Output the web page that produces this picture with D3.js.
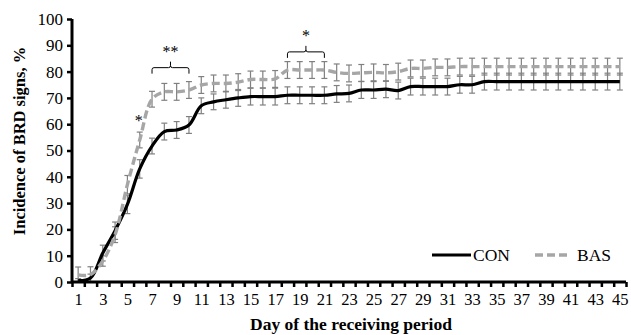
<!DOCTYPE html>
<html>
<head>
<meta charset="utf-8">
<script src="https://cdn.jsdelivr.net/npm/d3@7"></script>
<style>
  body { margin: 0; background: #fff; }
  svg text { font-family: "Liberation Serif", "Times New Roman", serif; }
</style>
</head>
<body>
<svg id="chart" width="631" height="335"></svg>
<script>
// days 1..45
const days = d3.range(1, 46);
const yTicks = [0, 10, 20, 30, 40, 50, 60, 70, 80, 90, 100];

// incidence of BRD signs (%)
const conValues = [0.5, 1.5, 11, 19.5, 29.5, 43, 51.7, 57.2, 57.8, 59.7,
  67, 68.5, 69.3, 70, 70.5, 70.5, 70.5, 71, 71, 71,
  71, 71.5, 71.7, 73, 73, 73.3, 72.8, 74.3, 74.3, 74.3,
  74.3, 75, 75, 76.2, 76.2, 76.2, 76.2, 76.2, 76.2, 76.2,
  76.2, 76.2, 76.2, 76.2, 76.2];
const basValues = [2.7, 2.8, 8, 18, 37, 54, 69.5, 72.3, 72.3, 73,
  74.9, 75.5, 75.5, 76, 77, 77, 77.2, 80.6, 80.6, 80.6,
  80.6, 79.7, 79.3, 79.5, 79.7, 79.5, 80, 81.2, 81.2, 81.6,
  81.6, 81.9, 81.9, 81.9, 81.9, 81.9, 81.9, 81.9, 81.9, 81.9,
  81.9, 81.9, 81.9, 81.9, 81.9];
// standard errors
const conErr = [0.8, 1.5, 3, 3.3, 3.5, 3.5, 3, 3.2, 3.2, 3.2,
  3, 3, 3.2, 3.2, 3.2, 3.2, 3.2, 3.2, 3.2, 3.2,
  3.2, 3.2, 3.2, 3.2, 3.2, 3.2, 3.2, 3.2, 3.2, 3.2,
  3.2, 3.2, 3.2, 3.2, 3.2, 3.2, 3.2, 3.2, 3.2, 3.2,
  3.2, 3.2, 3.2, 3.2, 3.2];
const basErr = [3, 3, 2, 3, 3.5, 3, 3, 3.2, 3.2, 3.2,
  3.2, 3.2, 3.2, 3.2, 3.2, 3.2, 3.2, 3.2, 3.2, 3.2,
  3.2, 3.2, 3.2, 3.2, 3.2, 3.2, 3.2, 3.2, 3.2, 3.2,
  3.2, 3.2, 3.2, 3.2, 3.2, 3.2, 3.2, 3.2, 3.2, 3.2,
  3.2, 3.2, 3.2, 3.2, 3.2];

// significance marks: [fromDay, toDay, label, level in %]
const sigMarks = [[6, 6, "*", 62.7], [7, 10, "**", 81.5], [18, 21, "*", 87.5]];

const svg = d3.select("#chart");
const plotLeft = 72, plotRight = 626, plotTop = 19, plotBottom = 282;

const x = d3.scaleLinear().domain([0.5, 45.5]).range([plotLeft, plotRight]);
const y = d3.scaleLinear().domain([0, 100]).range([plotBottom, plotTop]);

// error bars
function errorBars(vals, errs, cls) {
  const g = svg.append("g").attr("class", cls)
    .attr("stroke", "#808080").attr("stroke-width", 1.2).attr("fill", "none");
  days.forEach((d, i) => {
    const cx = x(d), y1 = y(vals[i] + errs[i]), y0 = y(Math.max(0, vals[i] - errs[i]));
    g.append("line").attr("x1", cx).attr("x2", cx).attr("y1", y1).attr("y2", y0);
    g.append("line").attr("x1", cx - 3).attr("x2", cx + 3).attr("y1", y1).attr("y2", y1);
    g.append("line").attr("x1", cx - 3).attr("x2", cx + 3).attr("y1", y0).attr("y2", y0);
  });
}
errorBars(conValues, conErr, "con-err");
errorBars(basValues, basErr, "bas-err");

const line = d3.line()
  .x((d, i) => x(days[i]))
  .y(d => y(d))
  .curve(d3.curveCatmullRom);

svg.append("path").datum(conValues)
  .attr("d", line).attr("fill", "none")
  .attr("stroke", "#000").attr("stroke-width", 3.2);

svg.append("path").datum(basValues)
  .attr("d", line).attr("fill", "none")
  .attr("stroke", "#a6a6a6").attr("stroke-width", 3.4)
  .attr("stroke-dasharray", "8,4");

// axes
const yAxis = svg.append("g").attr("transform", `translate(${plotLeft},0)`)
  .call(d3.axisLeft(y).tickValues(yTicks).tickSize(5).tickPadding(4));
yAxis.select(".domain").attr("stroke-width", 3).attr("d", `M0,${plotBottom}V${plotTop}`);
yAxis.selectAll(".tick line").attr("stroke-width", 2.5);
yAxis.selectAll("text").attr("font-size", 17).attr("fill", "#000")
  .style("font-family", "Liberation Serif");

const xAxis = svg.append("g").attr("transform", `translate(0,${plotBottom})`)
  .call(d3.axisBottom(x).tickValues(d3.range(0.5, 46, 1)).tickSize(5).tickFormat(""));
xAxis.select(".domain").attr("stroke-width", 3).attr("d", `M${plotLeft},0H${plotRight}`);
xAxis.selectAll(".tick line").attr("stroke-width", 2.5);

const xLabels = svg.append("g").attr("transform", `translate(0,${plotBottom})`)
  .call(d3.axisBottom(x).tickValues(days.filter(d => d % 2 === 1)).tickSize(0).tickPadding(11));
xLabels.select(".domain").remove();
xLabels.selectAll("text").attr("font-size", 16.5).attr("fill", "#000")
  .style("font-family", "Liberation Serif");

// axis titles
svg.append("text")
  .attr("x", 351).attr("y", 330)
  .attr("text-anchor", "middle").attr("font-size", 17.5).attr("font-weight", "bold")
  .text("Day of the receiving period");

svg.append("text")
  .attr("transform", "translate(25,141) rotate(-90)")
  .attr("text-anchor", "middle").attr("font-size", 16.5).attr("font-weight", "bold")
  .text("Incidence of BRD signs, %");

// significance brackets and stars
sigMarks.forEach(([a, b, label, level]) => {
  const hy = y(level);
  if (a === b) {
    svg.append("text").attr("x", x(a) - 1).attr("y", hy + 9)
      .attr("text-anchor", "middle").attr("font-size", 16).text(label);
    return;
  }
  const x0 = x(a), x1 = x(b), xm = (x0 + x1) / 2;
  svg.append("path")
    .attr("d", `M${x0},${hy + 6}V${hy + 2}Q${x0},${hy} ${x0 + 2},${hy}H${xm - 2}Q${xm},${hy} ${xm},${hy - 2}V${hy - 6}` +
      `M${xm},${hy - 2}Q${xm},${hy} ${xm + 2},${hy}H${x1 - 2}Q${x1},${hy} ${x1},${hy + 2}V${hy + 6}`)
    .attr("fill", "none").attr("stroke", "#000").attr("stroke-width", 1);
  svg.append("text").attr("x", xm).attr("y", hy - 11)
    .attr("text-anchor", "middle").attr("font-size", 16).text(label);
});

// legend
const legend = svg.append("g").attr("transform", "translate(432,255)");
legend.append("line").attr("x1", 0).attr("x2", 39).attr("stroke", "#000").attr("stroke-width", 3.2);
legend.append("text").attr("x", 41).attr("y", 6).attr("font-size", 17.5).text("CON");
legend.append("line").attr("x1", 103).attr("x2", 138)
  .attr("stroke", "#a6a6a6").attr("stroke-width", 3.4).attr("stroke-dasharray", "8,4");
legend.append("text").attr("x", 145).attr("y", 6).attr("font-size", 17.5).text("BAS");
</script>
</body>
</html>
